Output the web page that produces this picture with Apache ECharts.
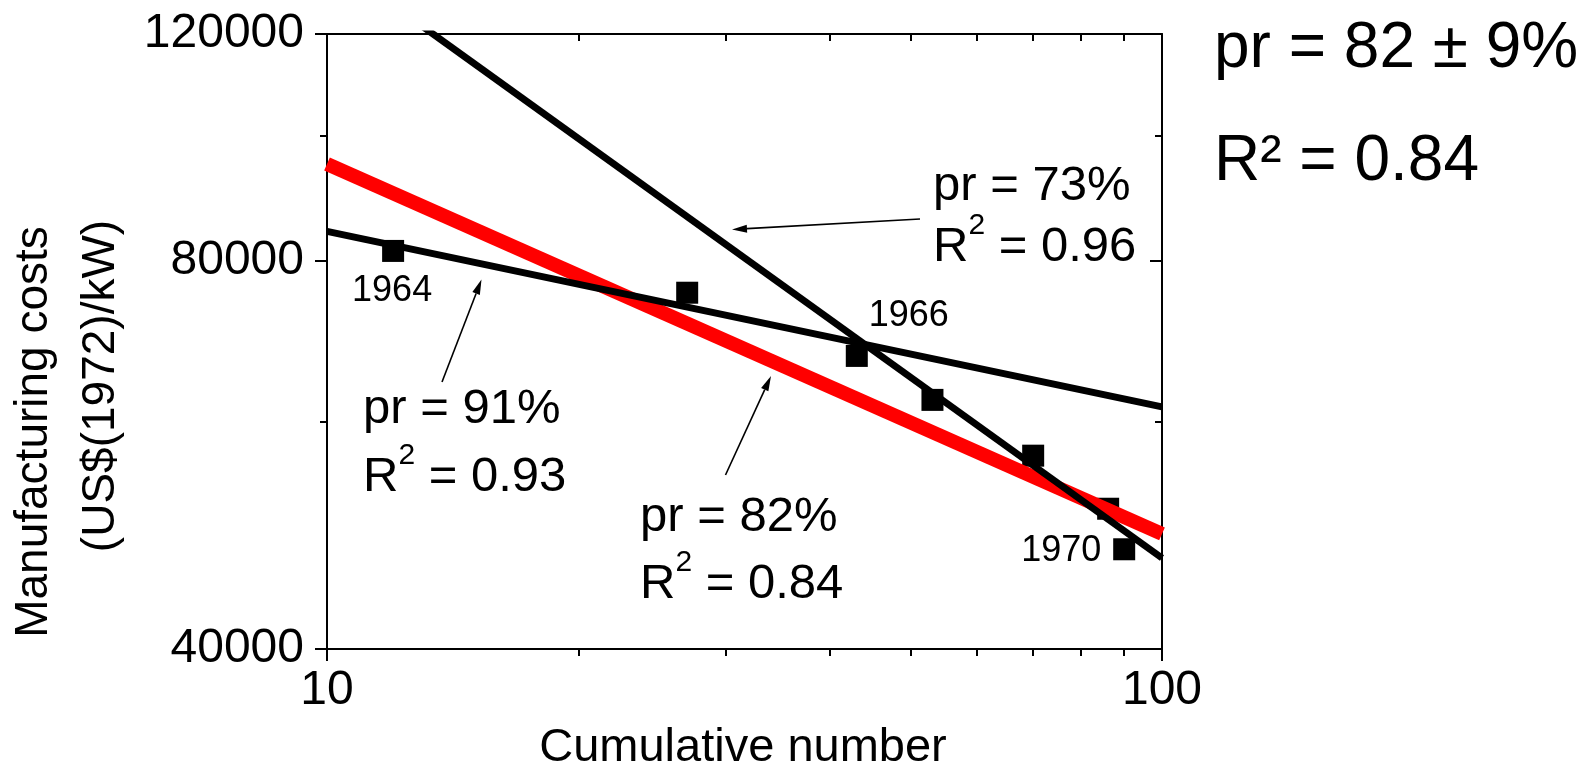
<!DOCTYPE html>
<html>
<head>
<meta charset="utf-8">
<title>Manufacturing costs vs cumulative number</title>
<script src="https://cdn.jsdelivr.net/npm/echarts@6/dist/echarts.min.js"></script>
<style>
    html, body { margin: 0; padding: 0; background: #fff; }
    #main-chart { width: 1586px; height: 764px; }
</style>
</head>
<body>
<div id="main-chart"></div>
<script>
// observed units, 1964 - 1970
var cumNumber = [12.0, 27.0, 43.1, 53.1, 70.1, 86.2, 90.1],
    costs = [81450, 75590, 67520, 62420, 56500, 51390, 47800],
    years = [1964, 1965, 1966, 1967, 1968, 1969, 1970],
    labelledYears = [1964, 1966, 1970];

// fitted experience curves, value at x = 10 and x = 100
var fitX = [10, 100],
    fit73 = [137500, 47060],
    fit82 = [95130, 49130],
    fit91 = [84350, 61640];

var xMajorTicks = [10, 100],
    xMinorTicks = [20, 30, 40, 50, 60, 70, 80, 90],
    yMajorTicks = [40000, 80000, 120000],
    yMinorTicks = [60000, 100000];

var FONT = '"Liberation Sans", Arial, Helvetica, sans-serif',
    BLACK = '#000';

var yearOffset = { 1964: [-1, 40], 1966: [52, -40], 1970: [-63, 2] };

var axis = function (dim, position, ticks, length, inside, showLine, labels) {
    var a = {
        type: 'log',
        logBase: 10,
        min: dim === 'x' ? 10 : 40000,
        max: dim === 'x' ? 100 : 120000,
        position: position,
        axisLine: { show: showLine, onZero: false, lineStyle: { color: BLACK, width: 2 } },
        axisTick: { show: true, inside: inside, length: length, customValues: ticks, lineStyle: { color: BLACK, width: 2 } },
        axisLabel: { show: false },
        splitLine: { show: false },
        minorTick: { show: false },
        minorSplitLine: { show: false }
    };
    if (labels) {
        a.axisLabel = {
            show: true,
            customValues: labels,
            color: BLACK,
            fontFamily: FONT,
            fontSize: 48,
            margin: dim === 'x' ? 18 : 23,
            padding: dim === 'x' ? 0 : [0, 0, 7, 0],
            formatter: function (v) { return String(Math.round(v)); }
        };
    }
    return a;
};

var fitSeries = function (values, color, width) {
    return {
        type: 'line',
        silent: true,
        symbol: 'none',
        clip: true,
        lineStyle: { color: color, width: width, cap: 'butt', opacity: 1 },
        data: fitX.map(function (x, i) { return [x, values[i]]; })
    };
};

var text = function (x, baseline, size, str, extra) {
    var el = {
        type: 'text',
        silent: true,
        x: x,
        y: baseline - 0.3465 * size,
        style: {
            text: str,
            fill: BLACK,
            fontFamily: FONT,
            fontSize: size,
            align: 'left',
            verticalAlign: 'middle'
        }
    };
    if (extra) {
        el.style.lineHeight = 72;
        el.style.rich = { sup: { fontSize: 30, fontFamily: FONT, fill: BLACK, verticalAlign: 'top' } };
    }
    return el;
};

var arrow = function (x1, y1, x2, y2) {
    var ang = Math.atan2(y2 - y1, x2 - x1),
        len = 15, half = 4,
        bx = x2 - len * Math.cos(ang),
        by = y2 - len * Math.sin(ang),
        nx = -Math.sin(ang) * half,
        ny = Math.cos(ang) * half;
    return [{
        type: 'line',
        silent: true,
        shape: { x1: x1, y1: y1, x2: bx, y2: by },
        style: { stroke: BLACK, lineWidth: 1.6 }
    }, {
        type: 'polygon',
        silent: true,
        shape: { points: [[x2, y2], [bx + nx, by + ny], [bx - nx, by - ny]] },
        style: { fill: BLACK }
    }];
};

var graphics = [
    text(933, 203, 49, 'pr = 73%'),
    text(933, 264, 49, 'R{sup|2} = 0.96', true),
    text(363, 426, 49, 'pr = 91%'),
    text(363, 494, 49, 'R{sup|2} = 0.93', true),
    text(640, 534, 49, 'pr = 82%'),
    text(640, 601, 49, 'R{sup|2} = 0.84', true),
    text(1214, 72, 64, 'pr = 82 ± 9%'),
    text(1214, 185, 64, 'R² = 0.84'),
    {
        type: 'text', silent: true, x: 34, y: 432, rotation: Math.PI / 2,
        style: { text: 'Manufacturing costs', fill: BLACK, fontFamily: FONT, fontSize: 46, align: 'center', verticalAlign: 'middle' }
    }, {
        type: 'text', silent: true, x: 101, y: 386, rotation: Math.PI / 2,
        style: { text: '(US$(1972)/kW)', fill: BLACK, fontFamily: FONT, fontSize: 46, align: 'center', verticalAlign: 'middle' }
    }, {
        type: 'text', silent: true, x: 743, y: 748,
        style: { text: 'Cumulative number', fill: BLACK, fontFamily: FONT, fontSize: 47, align: 'center', verticalAlign: 'middle' }
    }
].concat(arrow(920, 219, 732, 229.5), arrow(442, 382, 481.5, 279.5), arrow(725.5, 475, 771, 376));

var mainOption = {
    animation: false,
    backgroundColor: '#fff',
    grid: {
        left: 327,
        top: 34,
        width: 835,
        height: 615,
        containLabel: false,
        outerBoundsMode: 'none'
    },
    xAxis: [
        axis('x', 'bottom', xMajorTicks, 12, false, true, xMajorTicks),
        axis('x', 'bottom', xMinorTicks, 7, false, false),
        axis('x', 'top', xMajorTicks, 12, true, true),
        axis('x', 'top', xMinorTicks, 7, true, false)
    ],
    yAxis: [
        axis('y', 'left', yMajorTicks, 12, false, true, yMajorTicks),
        axis('y', 'left', yMinorTicks, 7, false, false),
        axis('y', 'right', yMajorTicks, 12, true, true),
        axis('y', 'right', yMinorTicks, 7, true, false)
    ],
    series: [
        fitSeries(fit82, '#ff0000', 14),
        fitSeries(fit91, BLACK, 7),
        fitSeries(fit73, BLACK, 7),
        {
            type: 'scatter',
            symbol: 'rect',
            symbolSize: 22,
            itemStyle: { color: BLACK, opacity: 1 },
            emphasis: { disabled: true },
            data: cumNumber.map(function (x, i) {
                var item = { value: [x, costs[i]] };
                if (labelledYears.indexOf(years[i]) >= 0) {
                    item.label = {
                        show: true,
                        position: 'inside',
                        offset: yearOffset[years[i]],
                        formatter: String(years[i]),
                        color: BLACK,
                        opacity: 1,
                        textBorderWidth: 0,
                        fontFamily: FONT,
                        fontSize: 36
                    };
                }
                return item;
            })
        }
    ],
    graphic: graphics
};

var mainChart = echarts.init(document.getElementById('main-chart'));
mainChart.setOption(mainOption);
</script>
</body>
</html>
